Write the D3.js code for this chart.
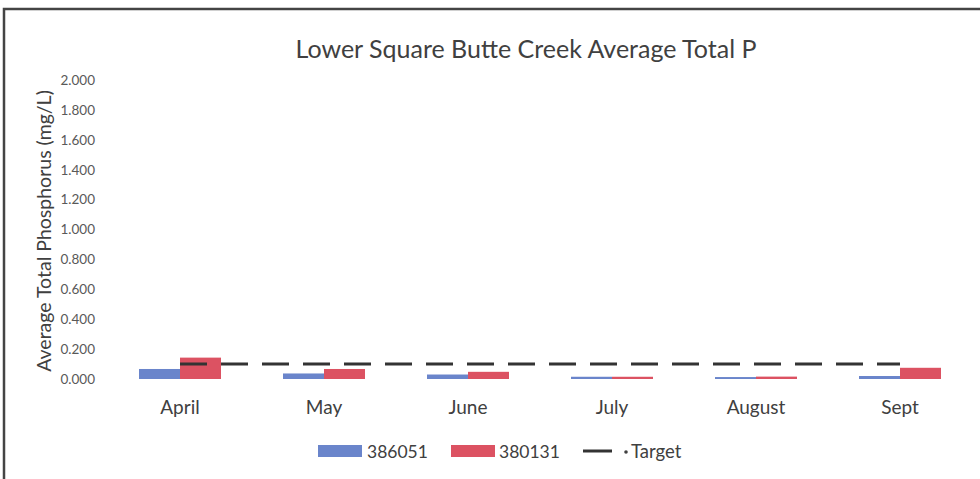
<!DOCTYPE html>
<html>
<head>
<meta charset="utf-8">
<script src="https://cdn.jsdelivr.net/npm/d3@7"></script>
<style>
  body { margin: 0; background: #fff; }
  text { font-family: Lato, "Open Sans", sans-serif; }
</style>
</head>
<body>
<div class="chart"></div>
<script>
// chart values
var months = ["April", "May", "June", "July", "August", "Sept"];
var site386051 = [0.067, 0.037, 0.030, 0.015, 0.013, 0.020];
var site380131 = [0.143, 0.067, 0.048, 0.015, 0.016, 0.075];
var target = [0.1, 0.1, 0.1, 0.1, 0.1, 0.1];
var yTicks = [0, 0.2, 0.4, 0.6, 0.8, 1.0, 1.2, 1.4, 1.6, 1.8, 2.0];

var svgWidth = 980;
var svgHeight = 479;

var margin = { top: 80, right: 8, bottom: 99, left: 108 };
var width = svgWidth - margin.left - margin.right;
var height = svgHeight - margin.top - margin.bottom;

var svg = d3.select(".chart")
  .append("svg")
  .attr("width", svgWidth)
  .attr("height", svgHeight);

// frame
svg.append("rect")
  .attr("x", 4)
  .attr("y", 9)
  .attr("width", 1000)
  .attr("height", 500)
  .attr("fill", "none")
  .attr("stroke", "#444")
  .attr("stroke-width", 2.5);

svg.append("text")
  .attr("x", 526)
  .attr("y", 58)
  .attr("text-anchor", "middle")
  .attr("font-size", "25px")
  .attr("fill", "#404040")
  .text("Lower Square Butte Creek Average Total P");

var chartGroup = svg.append("g")
  .attr("transform", `translate(${margin.left}, ${margin.top})`);

var xScale = d3.scaleBand()
  .domain(months)
  .range([0, width]);

var xInner = d3.scaleBand()
  .domain(["386051", "380131"])
  .range([0, 82]);

var yScale = d3.scaleLinear()
  .domain([0, 2])
  .range([height - 1, 0]);

// y axis
var leftAxis = d3.axisLeft(yScale)
  .tickValues(yTicks)
  .tickFormat(d3.format(".3f"))
  .tickSize(0)
  .tickPadding(13);

var yAxisG = chartGroup.append("g").call(leftAxis);
yAxisG.select(".domain").remove();
yAxisG.selectAll("text")
  .attr("font-size", "13.5px")
  .attr("fill", "#595959")
  .attr("font-family", "Lato, sans-serif");

// x axis
var bottomAxis = d3.axisBottom(xScale).tickSize(0).tickPadding(21);
var xAxisG = chartGroup.append("g")
  .attr("transform", `translate(0, ${height})`)
  .call(bottomAxis);
xAxisG.select(".domain").remove();
xAxisG.selectAll("text")
  .attr("font-size", "19px")
  .attr("fill", "#404040")
  .attr("font-family", "Lato, sans-serif");

// bars
var series = [
  { name: "386051", values: site386051, color: "#6A85CB" },
  { name: "380131", values: site380131, color: "#DC5262" }
];

series.forEach(function(s) {
  chartGroup.selectAll(".bar-" + s.name)
    .data(s.values)
    .enter()
    .append("rect")
    .attr("class", "bar-" + s.name)
    .attr("x", (d, i) => xScale(months[i]) + (xScale.bandwidth() - 82) / 2 + xInner(s.name))
    .attr("y", d => yScale(d))
    .attr("width", xInner.bandwidth())
    .attr("height", d => yScale(0) - yScale(d))
    .attr("fill", s.color);
});

// target line
var line = d3.line()
  .x((d, i) => xScale(months[i]) + xScale.bandwidth() / 2)
  .y(d => yScale(d));

chartGroup.append("path")
  .datum(target)
  .attr("d", line)
  .attr("fill", "none")
  .attr("stroke", "#333")
  .attr("stroke-width", 3)
  .attr("stroke-dasharray", "27,14");

// y axis label
svg.append("text")
  .attr("transform", "rotate(-90)")
  .attr("x", -231)
  .attr("y", 51)
  .attr("text-anchor", "middle")
  .attr("font-size", "19.5px")
  .attr("fill", "#404040")
  .text("Average Total Phosphorus (mg/L)");

// legend
var legend = svg.append("g").attr("transform", "translate(0, 451)");
legend.append("rect").attr("x", 318).attr("y", -6).attr("width", 44).attr("height", 12).attr("fill", "#6A85CB");
legend.append("text").attr("x", 367).attr("y", 6.5).attr("font-size", "17.5px").attr("fill", "#404040").text("386051");
legend.append("rect").attr("x", 451).attr("y", -6).attr("width", 44).attr("height", 12).attr("fill", "#DC5262");
legend.append("text").attr("x", 499).attr("y", 6.5).attr("font-size", "17.5px").attr("fill", "#404040").text("380131");
legend.append("line").attr("x1", 583).attr("x2", 612).attr("y1", 0).attr("y2", 0)
  .attr("stroke", "#333").attr("stroke-width", 3);
legend.append("circle").attr("cx", 626).attr("cy", 1).attr("r", 1.8).attr("fill", "#404040");
legend.append("text").attr("x", 631).attr("y", 6.5).attr("font-size", "18.5px").attr("fill", "#404040").text("Target");
</script>
</body>
</html>
